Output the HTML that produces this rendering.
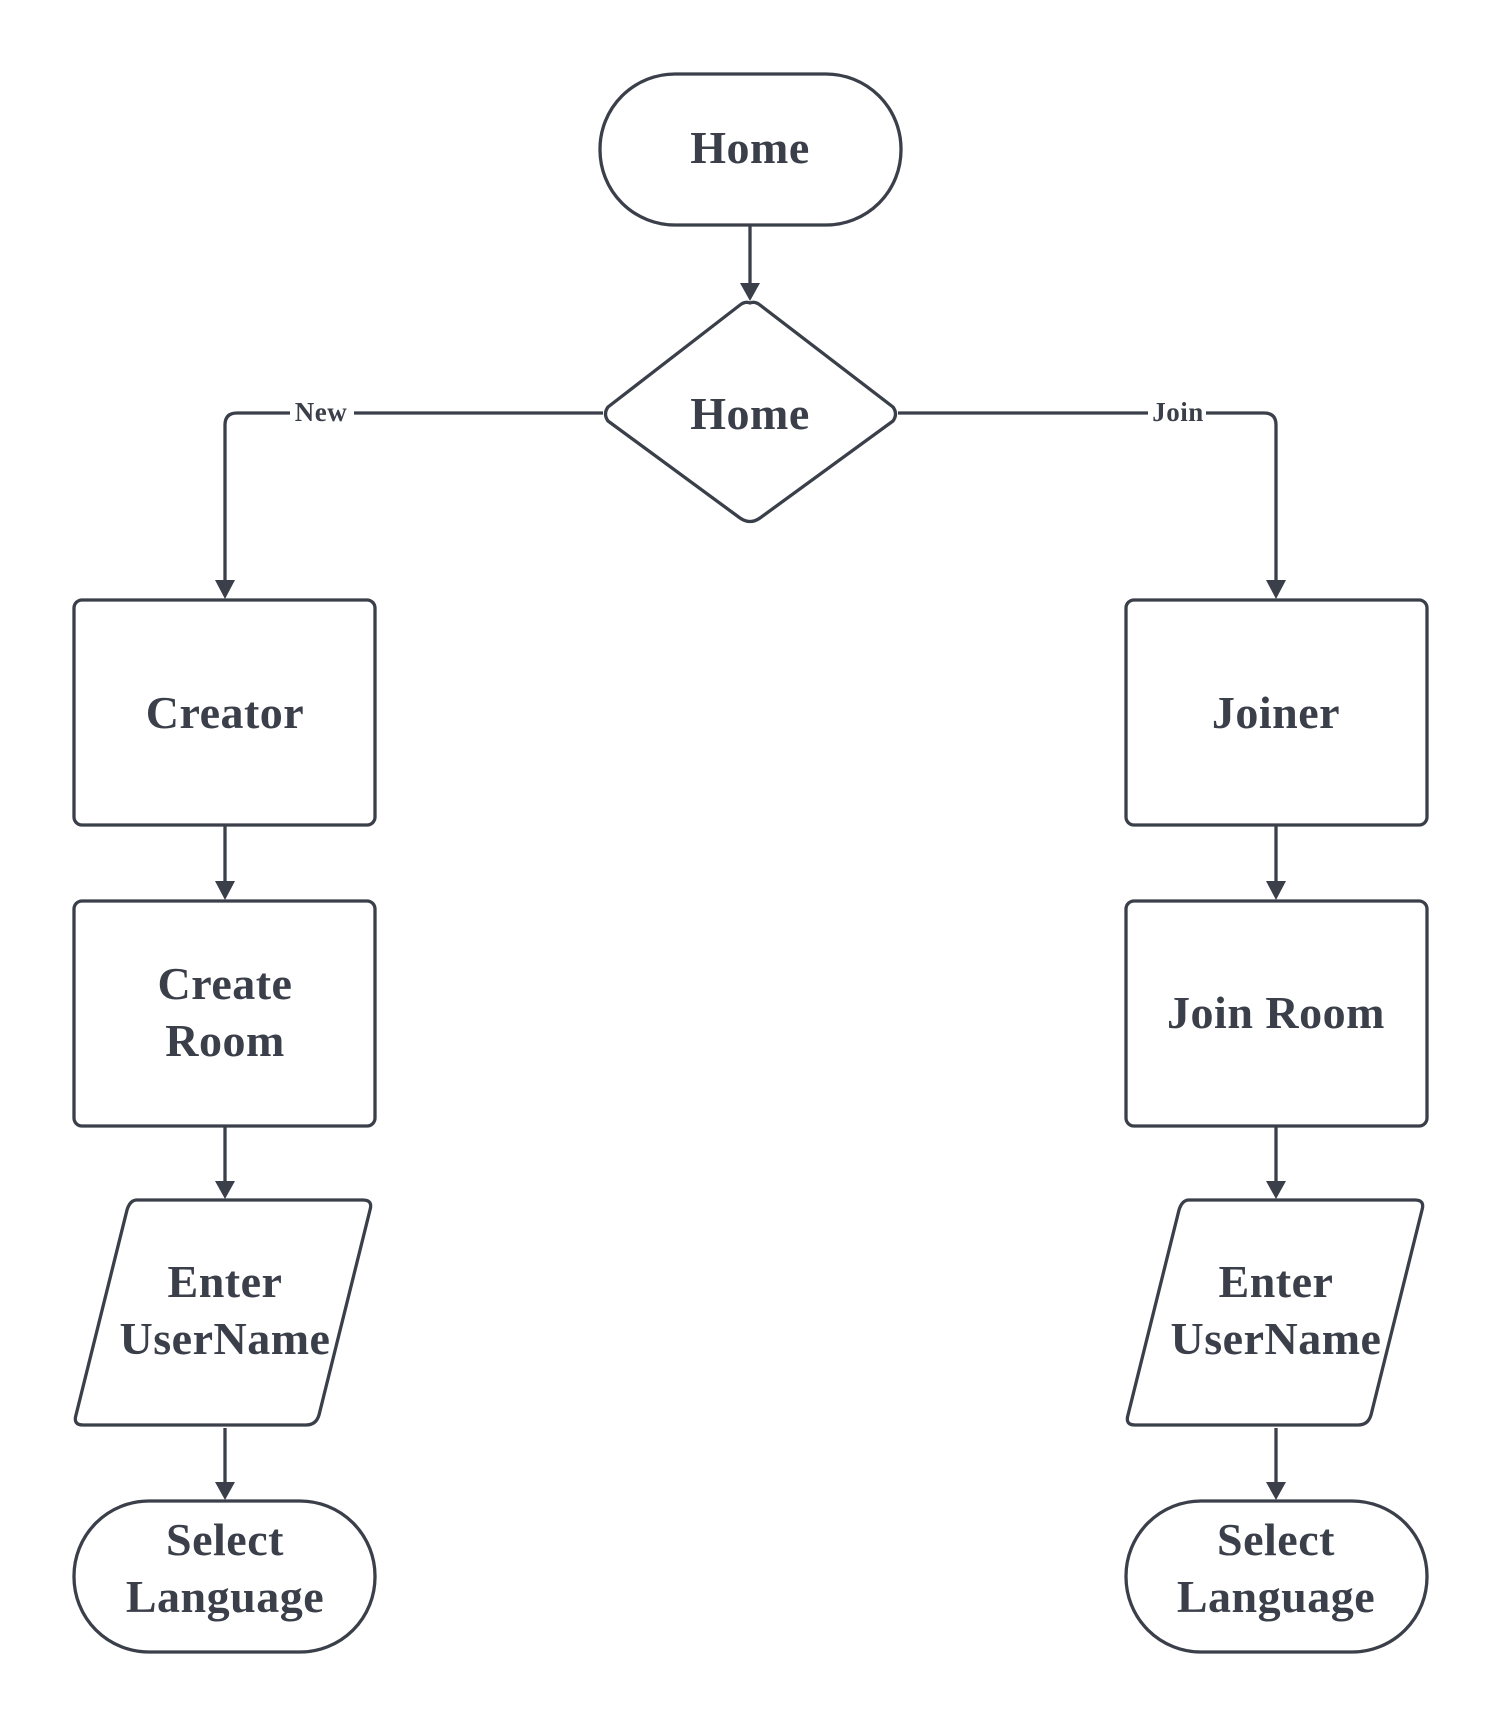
<!DOCTYPE html>
<html><head><meta charset="utf-8"><style>
html,body{margin:0;padding:0;background:#fff;}
svg{display:block;}
text{font-family:"Liberation Serif",serif;font-weight:bold;fill:#3a3f4a;text-anchor:middle;letter-spacing:0.5px;}
</style></head><body>
<svg width="1500" height="1725" viewBox="0 0 1500 1725" xmlns="http://www.w3.org/2000/svg">
<g fill="none" stroke="#3a3f4a" stroke-width="3.3" stroke-linejoin="round">
<rect x="600" y="74" width="301" height="151" rx="75" fill="#fff"/>
<path d="M750 303 Q755 301 760 305 L893 407 Q898 414 893 421 L760 518 Q750 525 740 518 L608 421 Q603 414 608 407 L740 305 Q745 301 750 303 Z" fill="#fff"/>
<line x1="750" y1="225" x2="750" y2="285"/>
<path d="M603 413 L237 413 Q225 413 225 425 L225 582"/>
<path d="M898 413 L1264 413 Q1276 413 1276 425 L1276 582"/>
<line x1="225" y1="826" x2="225" y2="883"/>
<line x1="1276" y1="826" x2="1276" y2="883"/>
<line x1="225" y1="1127" x2="225" y2="1183"/>
<line x1="1276" y1="1127" x2="1276" y2="1183"/>
<line x1="225" y1="1428" x2="225" y2="1484"/>
<line x1="1276" y1="1428" x2="1276" y2="1484"/>
<rect x="74" y="600" width="301" height="225" rx="8" fill="#fff"/>
<rect x="1126" y="600" width="301" height="225" rx="8" fill="#fff"/>
<rect x="74" y="901" width="301" height="225" rx="8" fill="#fff"/>
<rect x="1126" y="901" width="301" height="225" rx="8" fill="#fff"/>
<path d="M137 1200 L363 1200 Q373 1200 370 1210 L319 1415 Q316 1425 306 1425 L83 1425 Q73 1425 76 1415 L127 1210 Q130 1200 137 1200 Z" fill="#fff"/>
<path d="M1189 1200 L1415 1200 Q1425 1200 1422 1210 L1371 1415 Q1368 1425 1358 1425 L1135 1425 Q1125 1425 1128 1415 L1179 1210 Q1182 1200 1189 1200 Z" fill="#fff"/>
<rect x="74" y="1501" width="301" height="151" rx="75" fill="#fff"/>
<rect x="1126" y="1501" width="301" height="151" rx="75" fill="#fff"/>
</g>
<g fill="#3a3f4a">
<path d="M740 283 L760 283 L750 301 Z"/>
<path d="M215 580 L235 580 L225 599 Z"/>
<path d="M1266 580 L1286 580 L1276 599 Z"/>
<path d="M215 881 L235 881 L225 900 Z"/>
<path d="M1266 881 L1286 881 L1276 900 Z"/>
<path d="M215 1181 L235 1181 L225 1199 Z"/>
<path d="M1266 1181 L1286 1181 L1276 1199 Z"/>
<path d="M215 1482 L235 1482 L225 1500 Z"/>
<path d="M1266 1482 L1286 1482 L1276 1500 Z"/>
</g>
<rect x="290" y="399" width="64" height="28" fill="#fff"/>
<rect x="1148" y="399" width="58" height="28" fill="#fff"/>
<text x="321" y="421" font-size="27">New</text>
<text x="1178" y="421" font-size="27">Join</text>
<text x="750" y="163" font-size="46">Home</text>
<text x="750" y="429" font-size="46">Home</text>
<text x="225" y="728" font-size="46">Creator</text>
<text x="1276" y="728" font-size="46">Joiner</text>
<text x="225" y="999" font-size="46">Create</text>
<text x="225" y="1056" font-size="46">Room</text>
<text x="1276" y="1028" font-size="46">Join Room</text>
<text x="225" y="1297" font-size="46">Enter</text>
<text x="225" y="1354" font-size="46">UserName</text>
<text x="1276" y="1297" font-size="46">Enter</text>
<text x="1276" y="1354" font-size="46">UserName</text>
<text x="225" y="1555" font-size="46">Select</text>
<text x="225" y="1612" font-size="46">Language</text>
<text x="1276" y="1555" font-size="46">Select</text>
<text x="1276" y="1612" font-size="46">Language</text>
</svg>
</body></html>
